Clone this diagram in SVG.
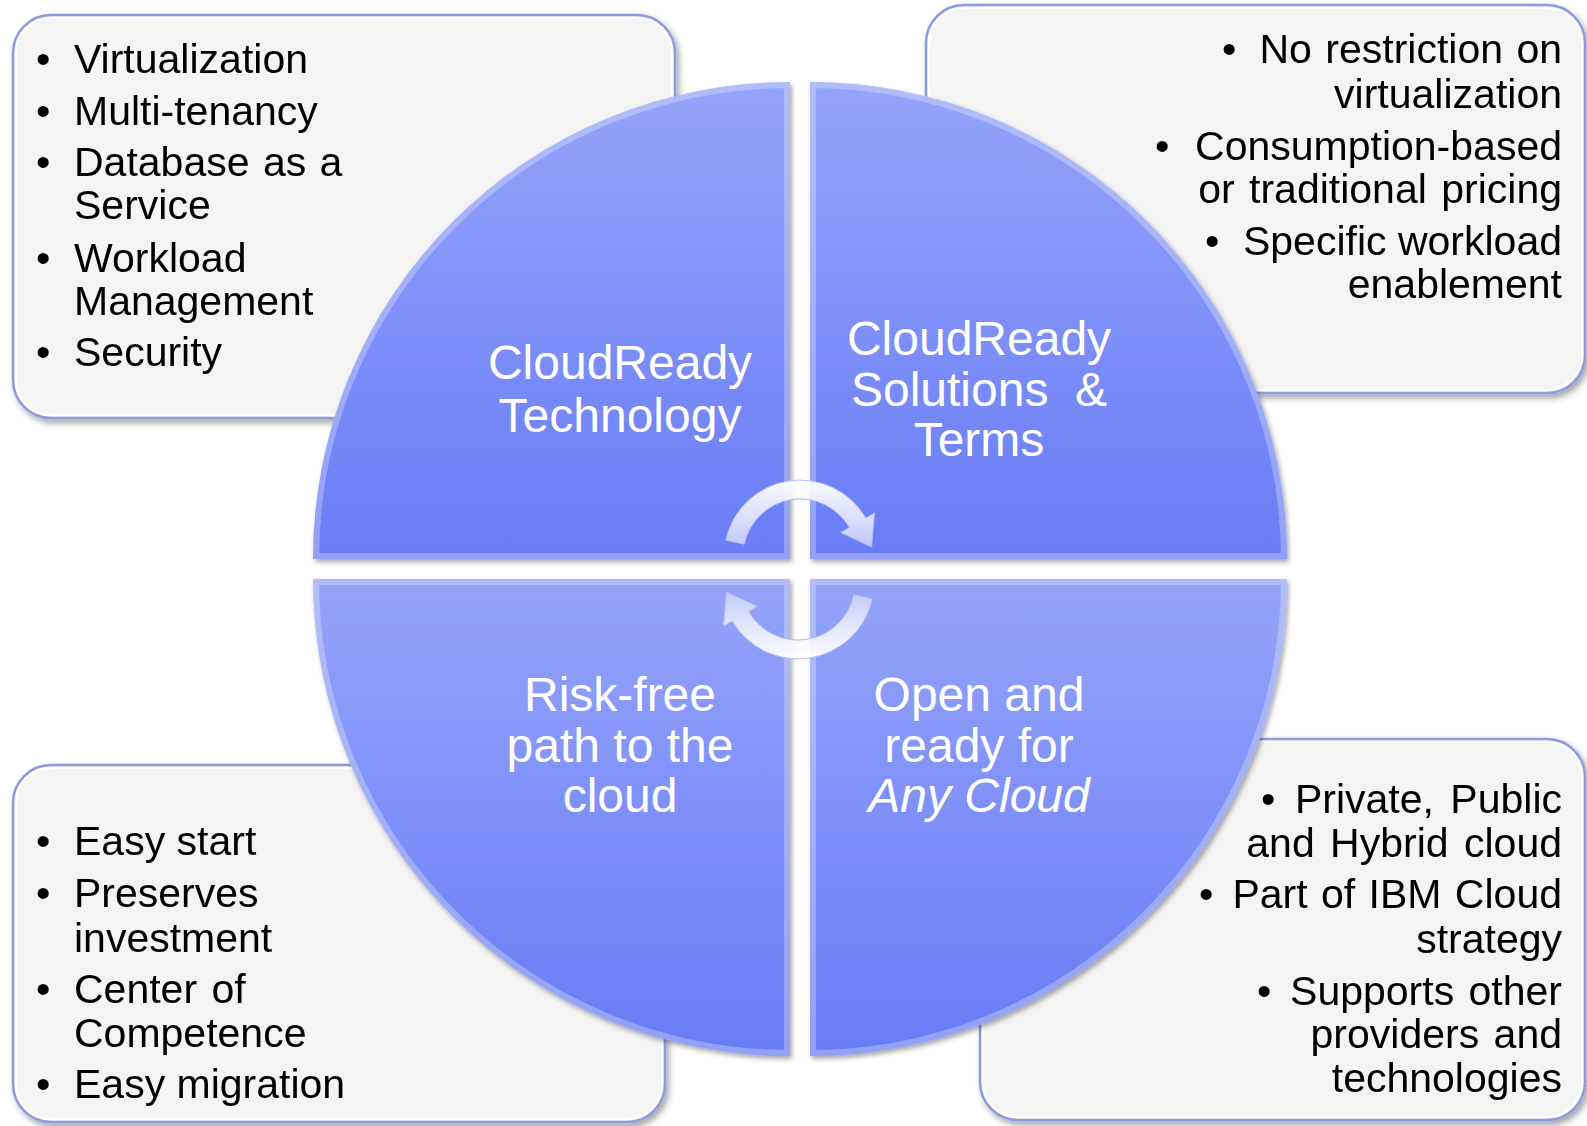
<svg xmlns="http://www.w3.org/2000/svg" width="1587" height="1126" viewBox="0 0 1587 1126">
  <defs>
    <style>
      .box { fill: #f4f4f4; stroke: #8d9ae0; stroke-width: 2.5; }
      .boxhl { fill: none; stroke: #ffffff; stroke-width: 2; opacity: 0.9; }
      .item { font-family: "Liberation Sans", Arial, sans-serif; font-size: 41px; fill: #000000; }
      .r { text-anchor: end; }
      .qt { font-family: "Liberation Sans", Arial, sans-serif; font-size: 48px; fill: #ffffff; text-anchor: middle; }
      .bevel { fill: none; stroke: #ffffff; stroke-width: 12; stroke-opacity: 0.28; }
    </style>
    <filter id="boxShadow" x="-5%" y="-5%" width="112%" height="115%">
      <feDropShadow dx="3" dy="4" stdDeviation="3" flood-color="#000000" flood-opacity="0.35"/>
    </filter>
    <filter id="qShadow" x="-5%" y="-5%" width="112%" height="112%">
      <feDropShadow dx="2" dy="3" stdDeviation="2.5" flood-color="#000000" flood-opacity="0.35"/>
    </filter>
    <linearGradient id="qGrad" x1="0" y1="0" x2="0" y2="1">
      <stop offset="0" stop-color="#94a4f9"/>
      <stop offset="1" stop-color="#687cf6"/>
    </linearGradient>
    <linearGradient id="arrowGrad" x1="0" y1="0" x2="0" y2="1">
      <stop offset="0" stop-color="#ffffff" stop-opacity="0.95"/>
      <stop offset="0.5" stop-color="#eef0fe" stop-opacity="0.88"/>
      <stop offset="1" stop-color="#c9d0f8" stop-opacity="0.88"/>
    </linearGradient>
    <clipPath id="cTL"><path d="M790,559 L313,559 A477,477 0 0 1 790,82 Z"/></clipPath>
    <clipPath id="cTR"><path d="M810,559 L810,82 A477,477 0 0 1 1287,559 Z"/></clipPath>
    <clipPath id="cBR"><path d="M810,579 L1287,579 A477,477 0 0 1 810,1056 Z"/></clipPath>
    <clipPath id="cBL"><path d="M790,579 L790,1056 A477,477 0 0 1 313,579 Z"/></clipPath>
    <path id="upArrow" d="M744.25,544.15 L725.7,540.2 A76,76 0 0 1 865.8,518 L874.5,513 L871.6,547 L840.7,532.5 L849.4,527.5 A57,57 0 0 0 744.25,544.15 Z"/>
  </defs>

  <rect width="1587" height="1126" fill="#ffffff"/>

  <!-- Text boxes -->
  <g id="box-technology" filter="url(#boxShadow)">
    <rect class="box" x="13" y="15" width="662" height="403" rx="38"/>
    <rect class="boxhl" x="16" y="18" width="656" height="397" rx="35"/>
    <text class="item" x="36" y="73">•</text><text class="item" x="74" y="73">Virtualization</text>
    <text class="item" x="36" y="125">•</text><text class="item" x="74" y="125">Multi-tenancy</text>
    <text class="item" x="36" y="176">•</text><text class="item" x="74" y="176" word-spacing="2">Database as a</text>
    <text class="item" x="74" y="219">Service</text>
    <text class="item" x="36" y="272">•</text><text class="item" x="74" y="272">Workload</text>
    <text class="item" x="74" y="315">Management</text>
    <text class="item" x="36" y="366">•</text><text class="item" x="74" y="366">Security</text>
  </g>

  <g id="box-solutions" filter="url(#boxShadow)">
    <rect class="box" x="926" y="5" width="659" height="388" rx="38"/>
    <rect class="boxhl" x="929" y="8" width="653" height="382" rx="35"/>
    <text class="item" x="1222" y="63">•</text><text class="item r" x="1562" y="63" word-spacing="2">No restriction on</text>
    <text class="item r" x="1562" y="108">virtualization</text>
    <text class="item" x="1155" y="160">•</text><text class="item r" x="1562" y="160">Consumption-based</text>
    <text class="item r" x="1562" y="203" word-spacing="3">or traditional pricing</text>
    <text class="item" x="1205" y="255">•</text><text class="item r" x="1562" y="255">Specific workload</text>
    <text class="item r" x="1562" y="298">enablement</text>
  </g>

  <g id="box-anycloud" filter="url(#boxShadow)">
    <rect class="box" x="980" y="739" width="605" height="381" rx="38"/>
    <rect class="boxhl" x="983" y="742" width="599" height="375" rx="35"/>
    <text class="item" x="1261" y="813">•</text><text class="item r" x="1562" y="813" word-spacing="5">Private, Public</text>
    <text class="item r" x="1562" y="857" word-spacing="4">and Hybrid cloud</text>
    <text class="item" x="1199" y="908">•</text><text class="item r" x="1562" y="908" word-spacing="2">Part of IBM Cloud</text>
    <text class="item r" x="1562" y="953">strategy</text>
    <text class="item" x="1257" y="1005">•</text><text class="item r" x="1562" y="1005" word-spacing="3">Supports other</text>
    <text class="item r" x="1562" y="1048" word-spacing="3">providers and</text>
    <text class="item r" x="1562" y="1092">technologies</text>
  </g>

  <g id="box-riskfree" filter="url(#boxShadow)">
    <rect class="box" x="13" y="765" width="652" height="357" rx="38"/>
    <rect class="boxhl" x="16" y="768" width="646" height="351" rx="35"/>
    <text class="item" x="36" y="855">•</text><text class="item" x="74" y="855">Easy start</text>
    <text class="item" x="36" y="907">•</text><text class="item" x="74" y="907">Preserves</text>
    <text class="item" x="74" y="952">investment</text>
    <text class="item" x="36" y="1003">•</text><text class="item" x="74" y="1003" word-spacing="3">Center of</text>
    <text class="item" x="74" y="1047">Competence</text>
    <text class="item" x="36" y="1098">•</text><text class="item" x="74" y="1098">Easy migration</text>
  </g>

  <!-- Quadrants -->
  <g id="quad-technology">
    <path d="M790,559 L313,559 A477,477 0 0 1 790,82 Z" fill="url(#qGrad)" filter="url(#qShadow)"/>
    <path class="bevel" clip-path="url(#cTL)" d="M790,559 L313,559 A477,477 0 0 1 790,82 Z"/>
    <text class="qt" x="620" y="379">CloudReady</text>
    <text class="qt" x="620" y="432">Technology</text>
  </g>
  <g id="quad-solutions">
    <path d="M810,559 L810,82 A477,477 0 0 1 1287,559 Z" fill="url(#qGrad)" filter="url(#qShadow)"/>
    <path class="bevel" clip-path="url(#cTR)" d="M810,559 L810,82 A477,477 0 0 1 1287,559 Z"/>
    <text class="qt" x="979" y="355">CloudReady</text>
    <text class="qt" x="979" y="406" xml:space="preserve">Solutions  &amp;</text>
    <text class="qt" x="979" y="456">Terms</text>
  </g>
  <g id="quad-anycloud">
    <path d="M810,579 L1287,579 A477,477 0 0 1 810,1056 Z" fill="url(#qGrad)" filter="url(#qShadow)"/>
    <path class="bevel" clip-path="url(#cBR)" d="M810,579 L1287,579 A477,477 0 0 1 810,1056 Z"/>
    <text class="qt" x="979" y="711">Open and</text>
    <text class="qt" x="979" y="762">ready for</text>
    <text class="qt" x="979" y="812" font-style="italic">Any Cloud</text>
  </g>
  <g id="quad-riskfree">
    <path d="M790,579 L790,1056 A477,477 0 0 1 313,579 Z" fill="url(#qGrad)" filter="url(#qShadow)"/>
    <path class="bevel" clip-path="url(#cBL)" d="M790,579 L790,1056 A477,477 0 0 1 313,579 Z"/>
    <text class="qt" x="620" y="711">Risk-free</text>
    <text class="qt" x="620" y="762">path to the</text>
    <text class="qt" x="620" y="812">cloud</text>
  </g>

  <!-- Connectors: cycle arrows -->
  <g id="connectors">
    <use href="#upArrow" fill="url(#arrowGrad)" stroke="#b3bcf2" stroke-width="1"/>
    <use href="#upArrow" fill="url(#arrowGrad)" stroke="#b3bcf2" stroke-width="1" transform="rotate(180 799 569.5)"/>
  </g>
</svg>
